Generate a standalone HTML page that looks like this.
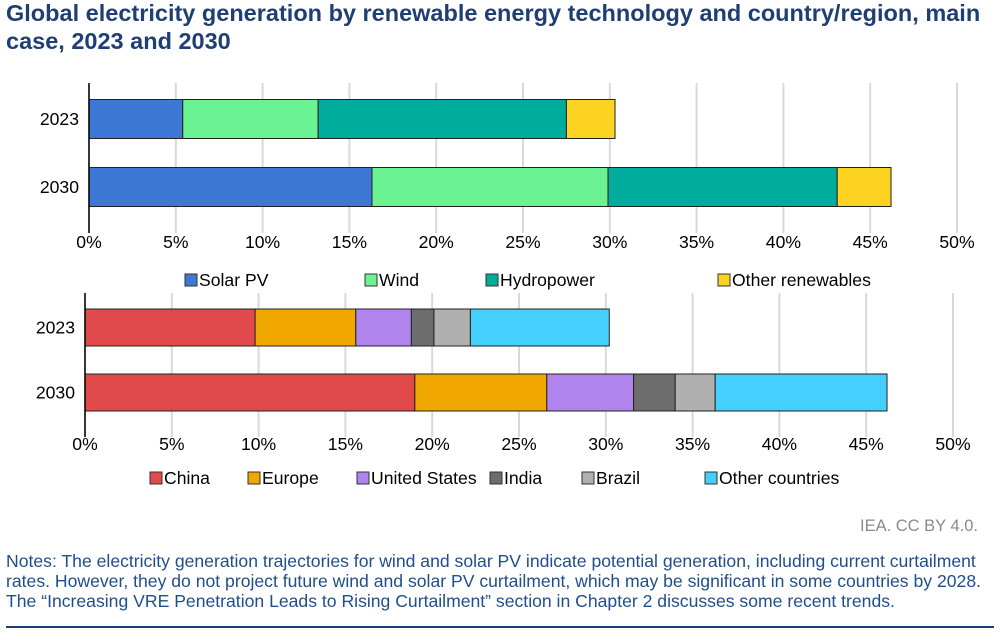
<!DOCTYPE html>
<html><head><meta charset="utf-8"><style>
body{margin:0;background:#fff;font-family:"Liberation Sans",Arial,sans-serif}
svg text{font-family:"Liberation Sans",Arial,sans-serif}
</style></head><body>
<svg id="c" width="1000" height="635" xmlns="http://www.w3.org/2000/svg">
<text x="6" y="21" font-size="23.5" font-weight="bold" fill="#1f3f74">Global electricity generation by renewable energy technology and country/region, main</text>
<text x="6" y="49" font-size="23.5" font-weight="bold" fill="#1f3f74">case, 2023 and 2030</text>
<g id="top"></g><g id="bot"></g>
<text x="978" y="531" font-size="16.5" fill="#8a8a8a" text-anchor="end">IEA. CC BY 4.0.</text>
<g font-size="17.6" fill="#1f4e8c">
<text x="6" y="567">Notes: The electricity generation trajectories for wind and solar PV indicate potential generation, including current curtailment</text>
<text x="6" y="587">rates. However, they do not project future wind and solar PV curtailment, which may be significant in some countries by 2028.</text>
<text x="6" y="607">The “Increasing VRE Penetration Leads to Rising Curtailment” section in Chapter 2 discusses some recent trends.</text>
</g>
<line x1="6" y1="627" x2="994" y2="627" stroke="#1f3f74" stroke-width="2"/>
</svg>
<script>
const years=["2023","2030"];
const techNames=["Solar PV","Wind","Hydropower","Other renewables"];
const techColors=["#3c78d4","#6bf293","#00ac9c","#fdd322"];
const solar=[5.4,16.3];
const wind=[7.8,13.6];
const hydro=[14.3,13.2];
const otherRen=[2.8,3.1];
const regNames=["China","Europe","United States","India","Brazil","Other countries"];
const regColors=["#e04a4a","#f0a800","#b084ec","#6d6d6d","#b0b0b0","#45cffc"];
const china=[9.8,19.0];
const europe=[5.8,7.6];
const us=[3.2,5.0];
const india=[1.3,2.4];
const brazil=[2.1,2.3];
const otherC=[8.0,9.9];
const ticks=[0,5,10,15,20,25,30,35,40,45,50];
const NS="http://www.w3.org/2000/svg";
function mk(p,t,a){const e=document.createElementNS(NS,t);for(const k in a)e.setAttribute(k,a[k]);p.appendChild(e);return e;}
function chart(g,x0,bandTop,bandH,barH,tickY,legY,series,names,colors,legX){
  const sx=v=>x0+v*17.36;
  ticks.forEach(t=>{
    const l=mk(g,'line',{x1:sx(t),x2:sx(t),y1:bandTop-16,y2:bandTop+bandH*2-2,stroke:'#d9d9d9','stroke-width':2});
    
    
    const tx=mk(g,'text',{x:sx(t),y:tickY,'font-size':17.6,'text-anchor':'middle',fill:'#000'});tx.textContent=t+'%';
    
    
  });
  years.forEach((y,i)=>{
    const yc=bandTop+bandH*i+bandH/2-14;
    let acc=0;
    series.forEach((s,j)=>{
      const r=mk(g,'rect',{x:sx(acc),y:yc-barH/2,width:sx(acc+s[i])-sx(acc),height:barH,fill:colors[j],stroke:'#222','stroke-width':1});
      
      
      acc+=s[i];
    });
    const lt=mk(g,'text',{x:x0-10,y:yc+6,'font-size':17.6,'text-anchor':'end'});lt.textContent=y;
    
    
  });
  const ax=mk(g,'line',{x1:x0,x2:x0,y1:bandTop-16,y2:bandTop+bandH*2-2,stroke:'#000','stroke-width':1.5});
  
  
  names.forEach((n,j)=>{
    const r=mk(g,'rect',{x:legX[j],y:legY-12,width:12,height:12,fill:colors[j],stroke:'#333','stroke-width':1});
    
    
    const t=mk(g,'text',{x:legX[j]+14,y:legY,'font-size':17.6});t.textContent=n;
    
    
  });
}
chart(document.getElementById('top'),89,99,68,39,248,286,[solar,wind,hydro,otherRen],techNames,techColors,[185,365,486,718]);
chart(document.getElementById('bot'),85,309,65,37,450,484,[china,europe,us,india,brazil,otherC],regNames,regColors,[150,248,357,490,582,705]);
</script>
</body></html>
